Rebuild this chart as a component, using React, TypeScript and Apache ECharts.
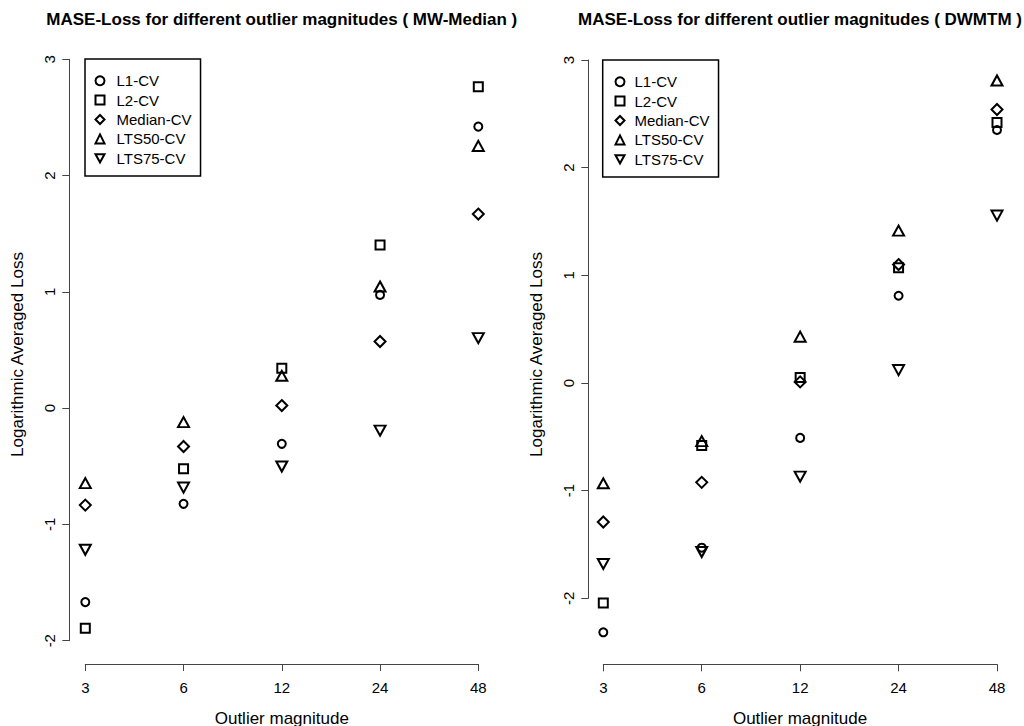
import React, { useEffect, useRef } from "react";
import * as echarts from "echarts";

const categories = ["3", "6", "12", "24", "48"];
const seriesNames = ["L1-CV", "L2-CV", "Median-CV", "LTS50-CV", "LTS75-CV"];

// Left panel: MW-Median
const mwL1 = [-1.668, -0.823, -0.307, 0.974, 2.421];
const mwL2 = [-1.892, -0.522, 0.344, 1.404, 2.765];
const mwMedian = [-0.834, -0.33, 0.022, 0.573, 1.669];
const mwLTS50 = [-0.645, -0.12, 0.278, 1.046, 2.255];
const mwLTS75 = [-1.218, -0.683, -0.502, -0.193, 0.602];

// Right panel: DWMTM
const dwL1 = [-2.316, -1.53, -0.51, 0.81, 2.35];
const dwL2 = [-2.043, -0.58, 0.05, 1.07, 2.42];
const dwMedian = [-1.291, -0.923, 0.01, 1.1, 2.54];
const dwLTS50 = [-0.932, -0.54, 0.43, 1.415, 2.81];
const dwLTS75 = [-1.681, -1.57, -0.87, 0.12, 1.555];

const yTicks = { min: -2, max: 3, interval: 1 };

const titles = [
  "MASE-Loss for different outlier magnitudes ( MW-Median )",
  "MASE-Loss for different outlier magnitudes ( DWMTM )",
];
const xName = "Outlier magnitude";
const yName = "Logarithmic Averaged Loss";

const FONT = "'Liberation Sans', Arial, Helvetica, sans-serif";

const symbols: any[] = [
  { symbol: "circle", size: 8 },
  { symbol: "rect", size: 9 },
  { symbol: "diamond", size: 11 },
  { symbol: "triangle", size: [11, 10] },
  { symbol: "path://M0,0L10,0L5,9Z", size: [11, 10] },
];

export default function App() {
  const ref = useRef<HTMLDivElement>(null);
  useEffect(() => {
    if (!ref.current) return;
    const chart = echarts.init(ref.current, null, { renderer: "svg" });
    const panels = [
      [mwL1, mwL2, mwMedian, mwLTS50, mwLTS75],
      [dwL1, dwL2, dwMedian, dwLTS50, dwLTS75],
    ];
    const grids = [
      { left: 85.3, top: 59.3, width: 393, height: 581.4 },
      { left: 603.3, top: 60, width: 393.7, height: 538.3 },
    ];
    const xOffsets = [23.3, 66];
    const yOffsets = [16, 15];

    const axisLineStyle = { color: "#444", width: 1 };

    const xAxis = grids.map((_, i) => ({
      type: "category",
      gridIndex: i,
      data: categories,
      boundaryGap: false,
      position: "bottom",
      offset: xOffsets[i],
      axisLine: { show: true, onZero: false, lineStyle: axisLineStyle },
      axisTick: { show: true, inside: false, length: 7, lineStyle: axisLineStyle },
      axisLabel: { fontSize: 15, color: "#000", fontFamily: FONT, margin: 16 },
      splitLine: { show: false },
    }));
    const yAxis = grids.map((_, i) => ({
      type: "value",
      gridIndex: i,
      min: yTicks.min,
      max: yTicks.max,
      interval: yTicks.interval,
      position: "left",
      offset: yOffsets[i],
      axisLine: { show: true, onZero: false, lineStyle: axisLineStyle },
      axisTick: { show: true, inside: false, length: 7, lineStyle: axisLineStyle },
      axisLabel: { fontSize: 15, color: "#000", fontFamily: FONT, rotate: 90, margin: 12 },
      splitLine: { show: false },
    }));

    const series: any[] = [];
    panels.forEach((panel, p) => {
      panel.forEach((vals, k) => {
        series.push({
          type: "scatter",
          name: seriesNames[k],
          xAxisIndex: p,
          yAxisIndex: p,
          clip: false,
          symbol: symbols[k].symbol,
          symbolSize: symbols[k].size,
          data: vals.map((v, j) => [categories[j], v]),
          itemStyle: { color: "rgba(0,0,0,0)", borderColor: "#000", borderWidth: 2, opacity: 1 },
          emphasis: { disabled: true },
        });
      });
    });

    const legendBase = {
      orient: "vertical",
      data: seriesNames,
      itemHeight: 9,
      itemWidth: 9,
      itemGap: 4.4,
      borderColor: "#000",
      borderWidth: 1.5,
      borderRadius: 0,
      textStyle: { fontSize: 15, color: "#000", fontFamily: FONT },
      itemStyle: { color: "rgba(0,0,0,0)", borderColor: "#000", borderWidth: 2 },
      selectedMode: false,
    };
    const legend = [
      {
        ...legendBase,
        left: 85,
        top: 59,
        padding: [14.2, 9, 10.2, 9.5],
        textStyle: { ...legendBase.textStyle, padding: [0, 0, 0, 7] },
      },
      {
        ...legendBase,
        left: 602.7,
        top: 60,
        padding: [14.2, 9, 10.2, 11.8],
        textStyle: { ...legendBase.textStyle, padding: [0, 0, 0, 5] },
      },
    ];

    const graphic: any[] = [];
    const centers = [281.8, 800];
    const yNameX = [17, 536];
    centers.forEach((cx, i) => {
      graphic.push({
        type: "text",
        x: cx,
        y: 19,
        style: {
          text: titles[i],
          fontSize: 17,
          fontWeight: "bold",
          fontFamily: FONT,
          fill: "#000",
          align: "center",
          verticalAlign: "middle",
        },
      });
      graphic.push({
        type: "text",
        x: cx,
        y: 718,
        style: {
          text: xName,
          fontSize: 17,
          fontFamily: FONT,
          fill: "#000",
          align: "center",
          verticalAlign: "middle",
        },
      });
      graphic.push({
        type: "text",
        x: yNameX[i],
        y: 354.5,
        rotation: Math.PI / 2,
        style: {
          text: yName,
          fontSize: 17,
          fontFamily: FONT,
          fill: "#000",
          align: "center",
          verticalAlign: "middle",
        },
      });
    });

    chart.setOption({
      animation: false,
      backgroundColor: "#fff",
      grid: grids,
      xAxis,
      yAxis,
      legend,
      series,
      graphic,
    });
    return () => chart.dispose();
  }, []);
  return (
    <div
      ref={ref}
      style={{ position: "fixed", left: 0, top: 0, width: 1024, height: 726, background: "#fff" }}
    />
  );
}
